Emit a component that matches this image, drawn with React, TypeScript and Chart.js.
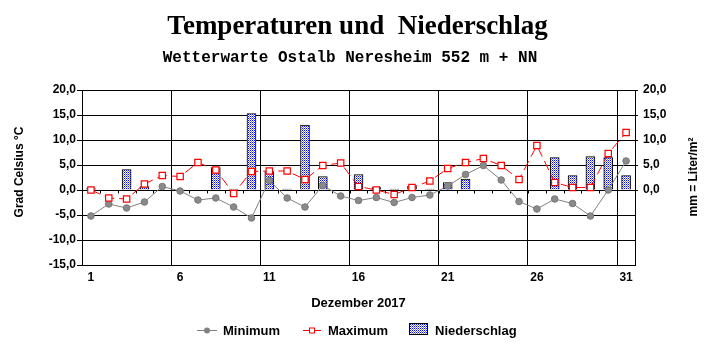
import React, { useEffect, useRef } from "react";
import { Chart, registerables } from "chart.js";

Chart.register(...registerables);

const days: string[] = Array.from({ length: 31 }, (_, i) => String(i + 1));
const minimum: number[] = [-5.2, -2.8, -3.6, -2.4, 0.7, -0.2, -2.0, -1.6, -3.4, -5.6, 1.9, -1.6, -3.4, 0.9, -1.2, -2.1, -1.5, -2.5, -1.5, -1.0, 0.8, 3.1, 4.9, 2.0, -2.3, -3.8, -1.8, -2.7, -5.2, 0.0, 5.8];
const maximum: number[] = [0.0, -1.6, -1.8, 1.2, 2.9, 2.7, 5.5, 4.0, -0.7, 3.7, 3.8, 3.8, 2.1, 4.9, 5.4, 0.7, 0.0, -0.9, 0.5, 1.8, 4.3, 5.5, 6.3, 4.9, 2.1, 8.9, 1.5, 0.5, 0.5, 7.3, 11.5];
const niederschlag: (number | null)[] = [0.3, null, 4.1, 0.7, null, null, null, 4.5, 0.2, 15.3, 3.7, 0.2, 13.0, 2.7, null, 3.1, 0.5, 0.2, 0.8, 0.2, 1.5, 2.2, null, null, null, null, 6.5, 2.9, 6.7, 6.5, 2.9];

const TITLE = "Temperaturen und  Niederschlag";
const SUBTITLE = "Wetterwarte Ostalb Neresheim 552 m + NN";
const X_TITLE = "Dezember 2017";
const Y_TITLE = "Grad Celsius °C";
const Y2_TITLE = "mm = Liter/m²";
const LABEL_MIN = "Minimum";
const LABEL_MAX = "Maximum";
const LABEL_RAIN = "Niederschlag";

const SANS = "'Liberation Sans', Arial, sans-serif";

function makePattern(): CanvasPattern | string {
  const c = document.createElement("canvas");
  c.width = 2;
  c.height = 2;
  const g = c.getContext("2d");
  if (!g) return "#8080ff";
  g.fillStyle = "#ffffff";
  g.fillRect(0, 0, 2, 2);
  g.fillStyle = "#0000ff";
  g.fillRect(0, 0, 1, 1);
  g.fillStyle = "#7f7fff";
  g.fillRect(1, 1, 1, 1);
  const p = g.createPattern(c, "repeat");
  return p || "#8080ff";
}

const fmt = (v: number) => v.toFixed(1).replace(".", ",");

export default function App() {
  const ref = useRef<HTMLCanvasElement | null>(null);

  useEffect(() => {
    if (!ref.current) return;
    const pattern = makePattern();

    const decor = {
      id: "decor",
      beforeDatasetsDraw(chart: any) {
        const ctx = chart.ctx;
        const x = chart.scales.x;
        const y = chart.scales.y;
        const y0 = Math.round(y.getPixelForValue(0)) + 0.5;
        ctx.save();
        ctx.strokeStyle = "#000";
        ctx.lineWidth = 1;
        ctx.beginPath();
        for (let i = 1; i < days.length; i++) {
          const px = Math.round((x.getPixelForTick(i) + x.getPixelForTick(i - 1)) / 2) + 0.5;
          ctx.moveTo(px, y0);
          ctx.lineTo(px, y0 + 3);
        }
        ctx.stroke();
        ctx.restore();
      },
      afterDraw(chart: any) {
        const ctx = chart.ctx;
        const area = chart.chartArea;
        ctx.save();
        ctx.fillStyle = "#000";
        ctx.textAlign = "center";
        ctx.textBaseline = "alphabetic";
        ctx.font = "bold 27px 'Liberation Serif', 'Times New Roman', serif";
        ctx.fillText(TITLE, 357.5, 34);
        ctx.font = "bold 16px 'Liberation Mono', 'Courier New', monospace";
        ctx.fillText(SUBTITLE, 350, 62);

        ctx.font = `bold 13px ${SANS}`;
        ctx.fillText(X_TITLE, (area.left + area.right) / 2, 307);

        ctx.font = `bold 12px ${SANS}`;
        ctx.save();
        ctx.translate(23, 172);
        ctx.rotate(-Math.PI / 2);
        ctx.fillText(Y_TITLE, 0, 0);
        ctx.restore();
        ctx.save();
        ctx.translate(697, 177);
        ctx.rotate(-Math.PI / 2);
        ctx.fillText(Y2_TITLE, 0, 0);
        ctx.restore();

        // legend
        const ly = 330.5;
        ctx.font = `bold 13px ${SANS}`;
        ctx.textAlign = "left";
        ctx.textBaseline = "alphabetic";
        ctx.strokeStyle = "#808080";
        ctx.lineWidth = 1;
        ctx.beginPath();
        ctx.moveTo(197, ly);
        ctx.lineTo(217, ly);
        ctx.stroke();
        ctx.fillStyle = "#808080";
        ctx.beginPath();
        ctx.arc(207, ly, 3, 0, Math.PI * 2);
        ctx.fill();
        ctx.fillStyle = "#000";
        ctx.fillText(LABEL_MIN, 223, 335);
        ctx.strokeStyle = "#ff0000";
        ctx.beginPath();
        ctx.moveTo(303, ly);
        ctx.lineTo(321, ly);
        ctx.stroke();
        ctx.fillStyle = "#fff";
        ctx.fillRect(309, ly - 3, 6, 6);
        ctx.strokeRect(309.5, ly - 2.5, 5, 5);
        ctx.fillStyle = "#000";
        ctx.fillText(LABEL_MAX, 328, 335);
        ctx.fillStyle = pattern as any;
        ctx.fillRect(409, 323, 19, 12);
        ctx.strokeStyle = "#000";
        ctx.strokeRect(409.5, 323.5, 18, 11);
        ctx.fillStyle = "#000";
        ctx.fillText(LABEL_RAIN, 435, 335);
        ctx.restore();
      },
    };

    const boundaryIdx = [5, 10, 15, 20, 25, 30];

    const chart = new Chart(ref.current, {
      data: {
        labels: days,
        datasets: [
          {
            type: "line",
            label: LABEL_MIN,
            data: minimum,
            borderColor: "#808080",
            backgroundColor: "#808080",
            borderWidth: 1,
            pointStyle: "circle",
            pointRadius: 3.3,
            pointBackgroundColor: "#8a8a8a",
            pointBorderColor: "#787878",
            pointBorderWidth: 1,
            tension: 0,
            order: 1,
            yAxisID: "y",
          },
          {
            type: "line",
            label: LABEL_MAX,
            data: maximum,
            borderColor: "#ff0000",
            backgroundColor: "#ffffff",
            borderWidth: 1,
            borderDash: [10, 5],
            pointStyle: "rect",
            pointRadius: 4.5,
            pointBackgroundColor: "#ffffff",
            pointBorderColor: "#ff0000",
            pointBorderWidth: 1.2,
            tension: 0,
            order: 0,
            yAxisID: "y",
          },
          {
            type: "bar",
            label: LABEL_RAIN,
            data: niederschlag,
            backgroundColor: pattern as any,
            borderColor: "#000000",
            borderWidth: 1,
            borderSkipped: "bottom",
            barThickness: 9,
            order: 2,
            yAxisID: "y",
          },
        ],
      } as any,
      options: {
        responsive: false,
        animation: false,
        layout: { padding: { top: 90, left: 0, right: 0, bottom: 0 } },
        plugins: {
          legend: { display: false },
          title: { display: false },
          tooltip: { enabled: false },
        },
        scales: {
          x: {
            type: "category",
            offset: true,
            grid: {
              offset: true,
              drawTicks: false,
              color: (ctx: any) => (boundaryIdx.includes(ctx.index) ? "#000" : "rgba(0,0,0,0)"),
              lineWidth: 1,
            },
            border: { display: true, color: "#000" },
            ticks: {
              autoSkip: false,
              maxRotation: 0,
              padding: 5,
              color: "#000",
              font: { family: SANS, size: 12, weight: "bold" },
              callback: (_v: any, i: number) => (i % 5 === 0 ? days[i] : ""),
            },
            afterFit: (s: any) => {
              s.height = 87;
            },
          },
          y: {
            position: "left",
            min: -15,
            max: 20,
            grid: { color: "#000", lineWidth: 1, tickLength: 5, drawTicks: true },
            border: { display: true, color: "#000" },
            ticks: {
              stepSize: 5,
              padding: 1,
              color: "#000",
              font: { family: SANS, size: 12, weight: "bold" },
              callback: (v: any) => fmt(Number(v)),
            },
            afterFit: (s: any) => {
              s.width = 82;
            },
          },
          y2: {
            position: "right",
            min: -15,
            max: 20,
            grid: {
              drawOnChartArea: false,
              tickLength: 3,
              color: (ctx: any) => (ctx.tick && ctx.tick.value >= 0 ? "#000" : "rgba(0,0,0,0)"),
            },
            border: { display: true, color: "#000" },
            ticks: {
              stepSize: 5,
              padding: 5,
              color: "#000",
              font: { family: SANS, size: 12, weight: "bold" },
              callback: (v: any) => (Number(v) >= 0 ? fmt(Number(v)) : ""),
            },
            afterFit: (s: any) => {
              s.width = 80;
            },
          },
        },
      } as any,
      plugins: [decor],
    });

    return () => chart.destroy();
  }, []);

  return (
    <div style={{ position: "fixed", left: 0, top: 0, width: 715, height: 352, background: "#fff" }}>
      <canvas ref={ref} width={715} height={352} style={{ display: "block", width: 715, height: 352 }} />
    </div>
  );
}
